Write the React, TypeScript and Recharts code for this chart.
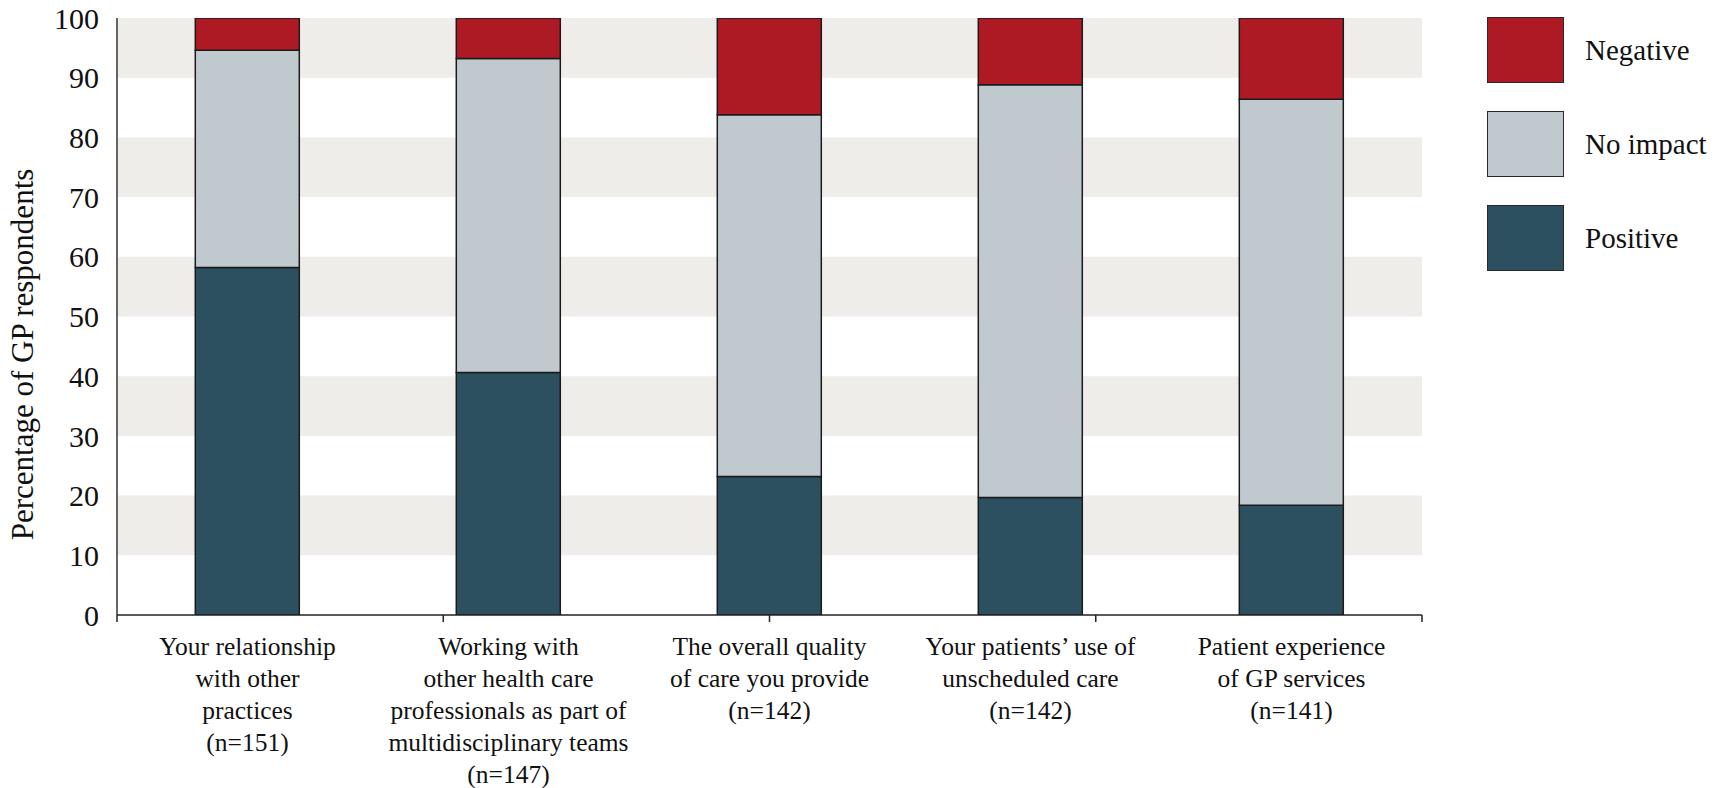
import React from "react";
import { BarChart, Bar, XAxis, YAxis, ReferenceArea, Legend } from "recharts";

// Category labels (line breaks as in the original figure)
const categories = [
  "Your relationship\nwith other\npractices\n(n=151)",
  "Working with\nother health care\nprofessionals as part of\nmultidisciplinary teams\n(n=147)",
  "The overall quality\nof care you provide\n(n=142)",
  "Your patients\u2019 use of\nunscheduled care\n(n=142)",
  "Patient experience\nof GP services\n(n=141)",
];

// Percentage of GP respondents per category
const positive = [58.2, 40.6, 23.2, 19.7, 18.4];
const noImpact = [36.4, 52.6, 60.6, 69.1, 68.0];
const negative = [5.4, 6.8, 16.2, 11.2, 13.6];

const yTicks = [0, 10, 20, 30, 40, 50, 60, 70, 80, 90, 100];
const shadedBands = [
  [10, 20],
  [30, 40],
  [50, 60],
  [70, 80],
  [90, 100],
];
const boundaryTicks = [0, 1, 2, 3, 4, 5];

const seriesKeys = ["positive", "noImpact", "negative"];
const seriesNames = ["Positive", "No impact", "Negative"];
const seriesColors = ["#2c5060", "#bfc9ce", "#ad1a24"];

const FONT = "'Liberation Serif', 'Times New Roman', serif";
const INK = "#111";

const chartData = categories.map((name, i) => ({
  name,
  positive: positive[i],
  noImpact: noImpact[i],
  negative: negative[i],
}));

function CategoryTick({ x, y, payload }: any) {
  const lines = String(payload.value).split("\n");
  return (
    <text x={x} y={y} textAnchor="middle" fill={INK} fontSize={25.5} fontFamily={FONT}>
      {lines.map((line, i) => (
        <tspan key={i} x={x} dy={i === 0 ? "0.71em" : 32}>
          {line}
        </tspan>
      ))}
    </text>
  );
}

function NoTick() {
  return <g />;
}

function YTitle({ viewBox }: any) {
  const cx = 33;
  const cy = viewBox.y + viewBox.height / 2 + 38;
  return (
    <text
      x={cx}
      y={cy}
      transform={`rotate(-90, ${cx}, ${cy})`}
      textAnchor="middle"
      fill={INK}
      fontSize={31}
      fontFamily={FONT}
    >
      Percentage of GP respondents
    </text>
  );
}

function LegendBox() {
  // top-down order: Negative, No impact, Positive
  const order = [2, 1, 0];
  return (
    <div style={{ fontFamily: FONT }}>
      {order.map((idx) => (
        <div key={idx} style={{ display: "flex", alignItems: "center", height: 66, marginBottom: 28 }}>
          <div
            style={{
              width: 77,
              height: 66,
              boxSizing: "border-box",
              background: seriesColors[idx],
              border: "1.5px solid #2a2a2a",
            }}
          />
          <span style={{ marginLeft: 21, fontSize: 29, color: INK }}>{seriesNames[idx]}</span>
        </div>
      ))}
    </div>
  );
}

export default function App() {
  return (
    <div style={{ position: "absolute", left: 0, top: 0, width: 1733, height: 788, background: "#fff" }}>
      <BarChart
        width={1733}
        height={788}
        data={chartData}
        margin={{ top: 18, right: 65, left: 0, bottom: 0 }}
        barCategoryGap="30%"
        style={{ fontFamily: FONT }}
      >
        {shadedBands.map(([a, b]) => (
          <ReferenceArea
            key={a}
            xAxisId="b"
            y1={a}
            y2={b}
            fill="#eeede9"
            fillOpacity={1}
            stroke="none"
          />
        ))}
        <XAxis
          xAxisId="a"
          type="number"
          domain={[0, 5]}
          ticks={boundaryTicks}
          height={1}
          tick={NoTick}
          tickSize={7}
          axisLine={{ stroke: "#222", strokeWidth: 1.5 }}
          tickLine={{ stroke: "#222", strokeWidth: 1.5 }}
        />
        <XAxis
          xAxisId="b"
          dataKey="name"
          height={172}
          interval={0}
          axisLine={false}
          tickLine={false}
          tickSize={0}
          tickMargin={21}
          tick={CategoryTick}
        />
        <YAxis
          type="number"
          domain={[0, 100]}
          allowDataOverflow
          ticks={yTicks}
          width={117}
          tickLine={false}
          tickSize={0}
          tickMargin={18}
          axisLine={{ stroke: "#333", strokeWidth: 1.5 }}
          tick={{ fill: INK, fontSize: 30, fontFamily: FONT }}
          label={<YTitle />}
        />
        <Legend
          layout="horizontal"
          align="right"
          verticalAlign="middle"
          content={<LegendBox />}
          wrapperStyle={{ top: 17, right: 0, left: "auto", width: 246 }}
        />
        {seriesKeys.map((key, i) => (
          <Bar
            key={key}
            xAxisId="b"
            dataKey={key}
            name={seriesNames[i]}
            stackId="a"
            fill={seriesColors[i]}
            stroke="#1b1b1b"
            strokeWidth={1.5}
            isAnimationActive={false}
          />
        ))}
      </BarChart>
    </div>
  );
}
